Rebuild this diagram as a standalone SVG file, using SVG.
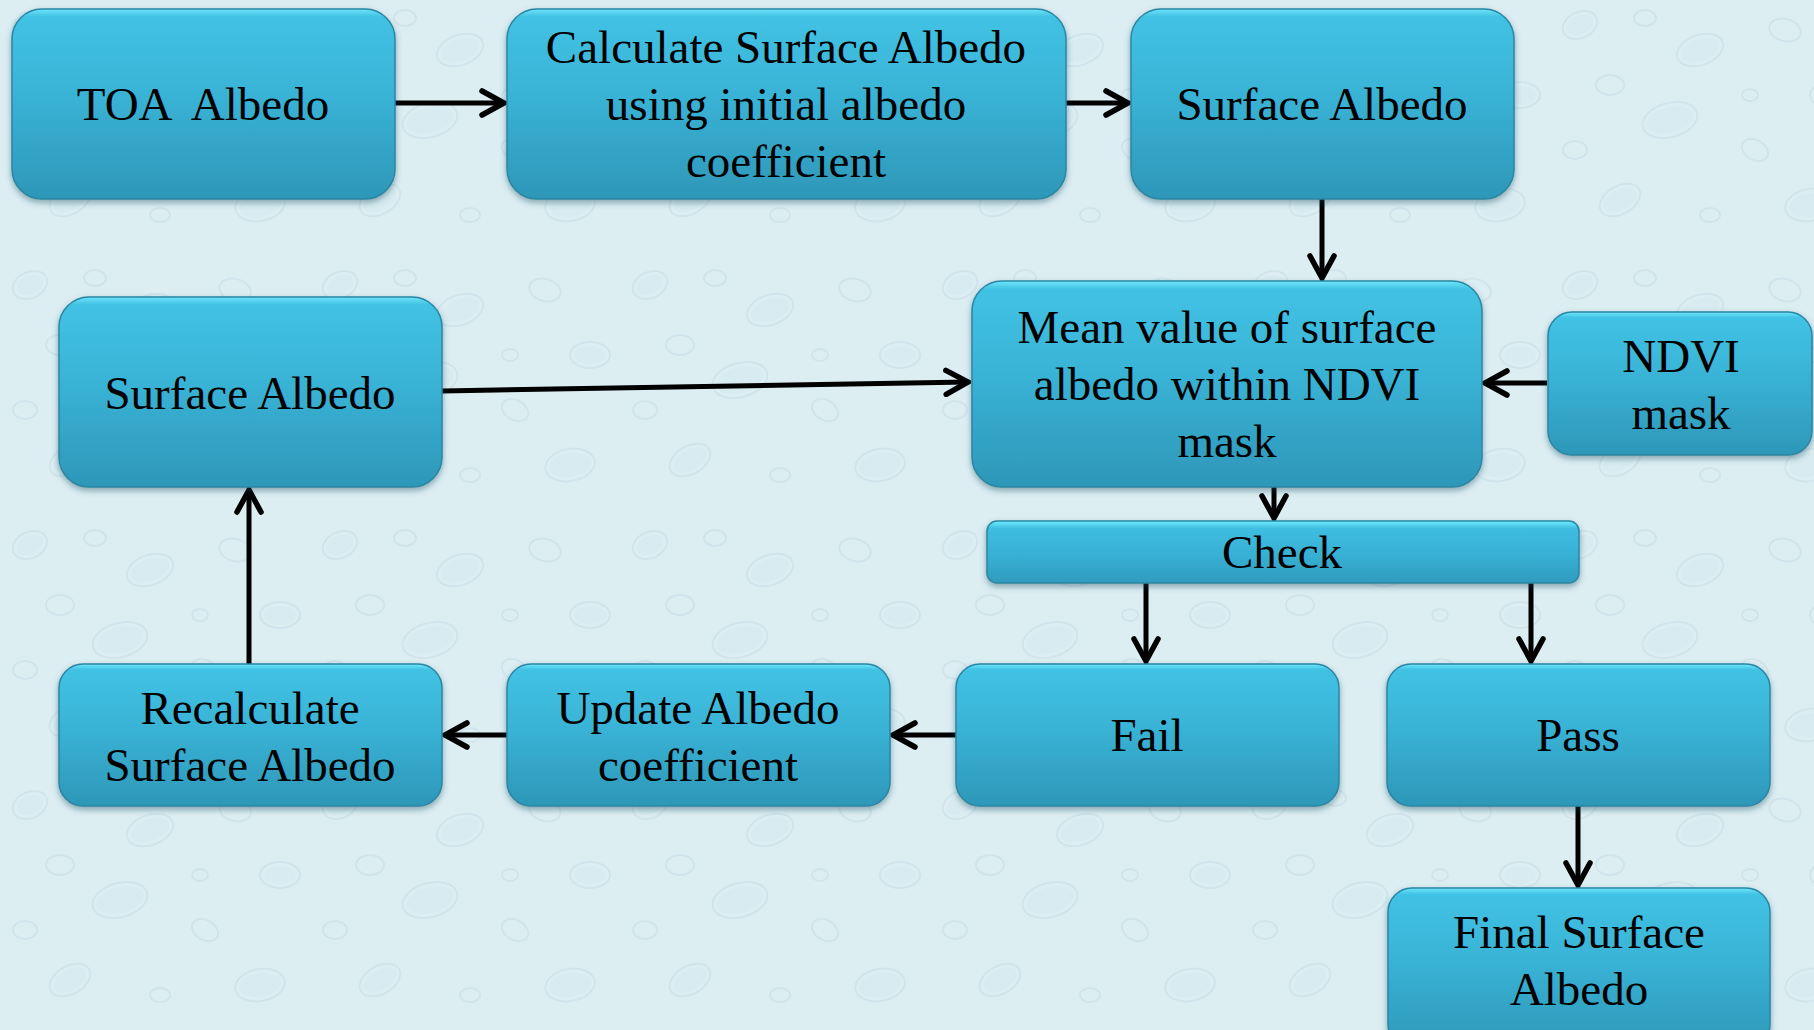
<svg xmlns="http://www.w3.org/2000/svg" width="1814" height="1030" viewBox="0 0 1814 1030">
  <defs>
    <!-- background water-drop texture, kept faint and irregular -->
    <pattern id="drops" x="0" y="0" width="310" height="260" patternUnits="userSpaceOnUse">
      <g fill="none" stroke="#c6dde6" stroke-width="2" opacity="0.55">
        <ellipse cx="30" cy="25" rx="18" ry="13" transform="rotate(-25 30 25)"/>
        <ellipse cx="95" cy="18" rx="11" ry="8"/>
        <ellipse cx="150" cy="50" rx="24" ry="15" transform="rotate(-20 150 50)"/>
        <ellipse cx="60" cy="85" rx="14" ry="10"/>
        <ellipse cx="235" cy="30" rx="16" ry="11" transform="rotate(15 235 30)"/>
        <ellipse cx="120" cy="120" rx="28" ry="17" transform="rotate(-15 120 120)"/>
        <ellipse cx="280" cy="95" rx="20" ry="13"/>
        <ellipse cx="25" cy="150" rx="12" ry="9"/>
        <ellipse cx="205" cy="150" rx="14" ry="10" transform="rotate(30 205 150)"/>
        <ellipse cx="70" cy="200" rx="22" ry="14" transform="rotate(-30 70 200)"/>
        <ellipse cx="160" cy="215" rx="10" ry="7"/>
        <ellipse cx="260" cy="205" rx="25" ry="16" transform="rotate(-10 260 205)"/>
        <ellipse cx="200" cy="95" rx="8" ry="6"/>
      </g>
      <g fill="#d2e6ed" opacity="0.45">
        <ellipse cx="150" cy="50" rx="20" ry="11" transform="rotate(-20 150 50)"/>
        <ellipse cx="120" cy="120" rx="24" ry="13" transform="rotate(-15 120 120)"/>
        <ellipse cx="280" cy="95" rx="16" ry="9"/>
        <ellipse cx="70" cy="200" rx="18" ry="10" transform="rotate(-30 70 200)"/>
        <ellipse cx="260" cy="205" rx="21" ry="12" transform="rotate(-10 260 205)"/>
        <ellipse cx="30" cy="25" rx="14" ry="9" transform="rotate(-25 30 25)"/>
      </g>
    </pattern>
    <linearGradient id="boxFill" x1="0" y1="0" x2="0" y2="1">
      <stop offset="0" stop-color="#6fe6fb"/>
      <stop offset="0.04" stop-color="#41c2e4"/>
      <stop offset="0.45" stop-color="#39b3d6"/>
      <stop offset="1" stop-color="#2e97b8"/>
    </linearGradient>
    <linearGradient id="checkFill" x1="0" y1="0" x2="0" y2="1">
      <stop offset="0" stop-color="#6ff0ff"/>
      <stop offset="0.12" stop-color="#3fbde0"/>
      <stop offset="0.55" stop-color="#37b0d4"/>
      <stop offset="1" stop-color="#2f9cbd"/>
    </linearGradient>
    <filter id="shadow" x="-10%" y="-10%" width="120%" height="130%">
      <feDropShadow dx="0" dy="3" stdDeviation="3" flood-color="#1b4a5a" flood-opacity="0.45"/>
    </filter>
    <marker id="chev" viewBox="0 0 28 30" refX="25" refY="15" markerWidth="28" markerHeight="30" markerUnits="userSpaceOnUse" orient="auto">
      <path d="M3,3 L25,15 L3,27" fill="none" stroke="#000" stroke-width="5.5" stroke-linecap="round" stroke-linejoin="miter"/>
    </marker>
  </defs>
  <style>
    .box { fill: url(#boxFill); stroke: #2a86a3; stroke-width: 1.5; filter: url(#shadow); }
    .chk { fill: url(#checkFill); stroke: #2a86a3; stroke-width: 1.5; filter: url(#shadow); }
    .lbl { font-size: 47px; fill: #000; text-anchor: middle; white-space: pre; }
    .edge { fill: none; stroke: #000; stroke-width: 5; marker-end: url(#chev); }
  </style>

  <rect x="0" y="0" width="1814" height="1030" fill="#ddeef3"/>
  <rect x="0" y="0" width="1814" height="1030" fill="url(#drops)"/>

  <g id="connectors">
    <line class="edge" x1="395" y1="103" x2="504" y2="103"/>
    <line class="edge" x1="1066" y1="103" x2="1128" y2="103"/>
    <line class="edge" x1="1322" y1="199" x2="1322" y2="278"/>
    <line class="edge" x1="1547" y1="383" x2="1485" y2="383"/>
    <line class="edge" x1="442" y1="391" x2="968" y2="382"/>
    <line class="edge" x1="1274" y1="487" x2="1274" y2="518"/>
    <line class="edge" x1="1146" y1="583" x2="1146" y2="661"/>
    <line class="edge" x1="1531" y1="583" x2="1531" y2="661"/>
    <line class="edge" x1="956" y1="735" x2="893" y2="735"/>
    <line class="edge" x1="507" y1="735" x2="445" y2="735"/>
    <line class="edge" x1="249" y1="664" x2="249" y2="490"/>
    <line class="edge" x1="1578" y1="806" x2="1578" y2="885"/>
  </g>

  <g font-family="'Liberation Serif', 'Times New Roman', serif">
  <g id="toa-albedo">
    <rect class="box" x="12" y="9" width="383" height="190" rx="30"/>
    <text class="lbl" x="203" y="120" xml:space="preserve">TOA  Albedo</text>
  </g>
  <g id="calc-surface-albedo">
    <rect class="box" x="507" y="9" width="559" height="190" rx="30"/>
    <text class="lbl" x="786" y="63">Calculate Surface Albedo</text>
    <text class="lbl" x="786" y="120">using initial albedo</text>
    <text class="lbl" x="786" y="177">coefficient</text>
  </g>
  <g id="surface-albedo-top">
    <rect class="box" x="1131" y="9" width="383" height="190" rx="30"/>
    <text class="lbl" x="1322" y="120">Surface Albedo</text>
  </g>
  <g id="mean-value">
    <rect class="box" x="972" y="281" width="510" height="206" rx="30"/>
    <text class="lbl" x="1227" y="343">Mean value of surface</text>
    <text class="lbl" x="1227" y="400">albedo within NDVI</text>
    <text class="lbl" x="1227" y="457">mask</text>
  </g>
  <g id="ndvi-mask">
    <rect class="box" x="1548" y="312" width="264" height="143" rx="24"/>
    <text class="lbl" x="1681" y="372">NDVI</text>
    <text class="lbl" x="1681" y="429">mask</text>
  </g>
  <g id="surface-albedo-left">
    <rect class="box" x="59" y="297" width="383" height="190" rx="30"/>
    <text class="lbl" x="250" y="409">Surface Albedo</text>
  </g>
  <g id="check">
    <rect class="chk" x="987" y="521" width="592" height="62" rx="10"/>
    <text class="lbl" x="1282" y="568">Check</text>
  </g>
  <g id="fail">
    <rect class="box" x="956" y="664" width="383" height="142" rx="24"/>
    <text class="lbl" x="1147" y="751">Fail</text>
  </g>
  <g id="pass">
    <rect class="box" x="1387" y="664" width="383" height="142" rx="24"/>
    <text class="lbl" x="1578" y="751">Pass</text>
  </g>
  <g id="update-coefficient">
    <rect class="box" x="507" y="664" width="383" height="142" rx="24"/>
    <text class="lbl" x="698" y="724">Update Albedo</text>
    <text class="lbl" x="698" y="781">coefficient</text>
  </g>
  <g id="recalculate">
    <rect class="box" x="59" y="664" width="383" height="142" rx="24"/>
    <text class="lbl" x="250" y="724">Recalculate</text>
    <text class="lbl" x="250" y="781">Surface Albedo</text>
  </g>
  <g id="final-surface-albedo">
    <rect class="box" x="1388" y="888" width="382" height="160" rx="24"/>
    <text class="lbl" x="1579" y="948">Final Surface</text>
    <text class="lbl" x="1579" y="1005">Albedo</text>
  </g>
  </g>
</svg>
